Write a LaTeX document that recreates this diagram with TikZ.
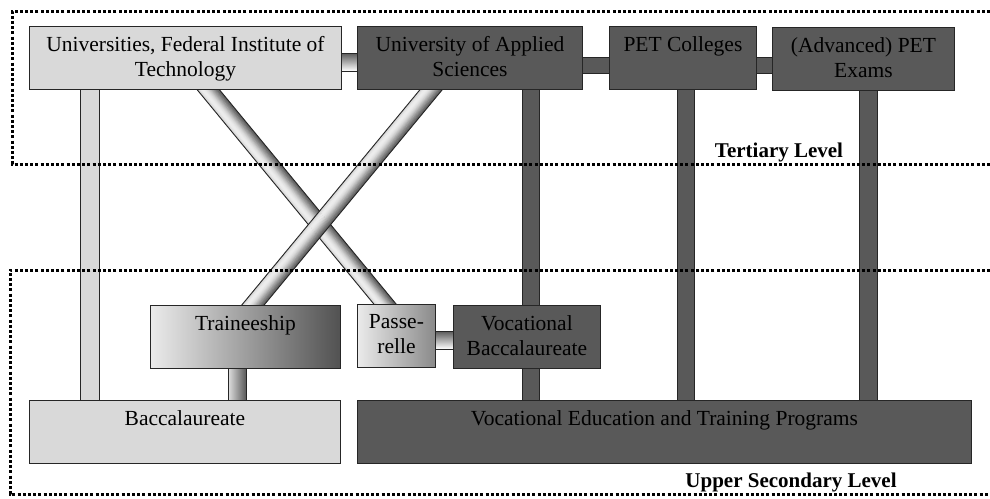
\documentclass[tikz,border=0pt]{standalone}
\usepackage{fontspec}
\setmainfont{Liberation Serif}
\usetikzlibrary{calc}
\definecolor{boxlight}{HTML}{D9D9D9}
\definecolor{boxdark}{HTML}{595959}
\definecolor{edge}{HTML}{262626}
\newcommand\gradbar[2]{%
  \foreach \ofs/\shv in {-8/20,-7/14,-6/10,-5/8,-4/7,-3/8,-2/10,-1/13,0/17,1/22,2/28,3/34,4/40,5/46,6/52,7/58,8/63} {%
    \draw[line width=1.3pt, black!\shv] ($(#1)!\ofs pt!90:(#2)$) -- ($(#2)!\ofs pt!-90:(#1)$);
  }%
  \draw[edge, line width=0.9pt] ($(#1)!-8.6pt!90:(#2)$) -- ($(#2)!-8.6pt!-90:(#1)$);
  \draw[edge, line width=0.9pt] ($(#1)!8.6pt!90:(#2)$) -- ($(#2)!8.6pt!-90:(#1)$);
}
\begin{document}
\begin{tikzpicture}[x=1pt,y=-1pt,
  box/.style={rectangle, draw=edge, line width=0.9pt, anchor=north west, inner sep=0pt, minimum height=63pt},
  lightbox/.style={box, fill=boxlight},
  darkbox/.style={box, fill=boxdark},
  lbl/.style={anchor=north, inner sep=0pt, yshift=-10.5pt, align=center, font=\fontsize{21.5}{25}\selectfont, text=black},
  level/.style={anchor=base, inner sep=0pt, font=\fontsize{21}{24.5}\selectfont\bfseries},
  levelframe/.style={line width=3pt, dash pattern=on 3pt off 2.2pt},
  bardark/.style={draw=edge, line width=0.9pt, fill=boxdark},
  barlight/.style={draw=edge, line width=0.9pt, fill=boxlight},
  barv/.style={draw=edge, line width=0.9pt, top color=black!65, bottom color=white},
  barh/.style={draw=edge, line width=0.9pt, left color=black!12, right color=black!65},
]
\useasboundingbox (0,0) rectangle (990,498);
\fill[white] (0,0) rectangle (990,498);

% box positions (named nodes, invisible; drawn again on top of connectors)
\path
  node[lightbox, draw=none, fill=none, minimum width=312pt] (univ) at (29,26) {}
  node[darkbox, draw=none, fill=none, minimum width=225pt] (uas) at (357,26) {}
  node[darkbox, draw=none, fill=none, minimum width=147pt] (pet) at (609,26) {}
  node[darkbox, draw=none, fill=none, minimum width=182pt] (adv) at (772,26.5) {}
  node[box, draw=none, minimum width=190pt] (trainee) at (150,305) {}
  node[box, draw=none, minimum width=78pt] (pass) at (357,304) {}
  node[darkbox, draw=none, fill=none, minimum width=147pt] (vocb) at (453,305) {}
  node[lightbox, draw=none, fill=none, minimum width=311pt] (bacc) at (29,400) {}
  node[darkbox, draw=none, fill=none, minimum width=614pt] (vet) at (357,400) {};

% straight connectors
\path[barlight] ([xshift=51pt]univ.south west) rectangle ([xshift=70pt]bacc.north west);
\path[barv] ([yshift=-27pt]univ.north east) rectangle ([yshift=-45pt]uas.north west);
\path[bardark] ([yshift=-31pt]uas.north east) rectangle ([yshift=-47pt]pet.north west);
\path[bardark] ([yshift=-31pt]pet.north east) rectangle ([yshift=-47pt]adv.north west);
\path[bardark] ([xshift=165pt]uas.south west) rectangle ([xshift=86pt]vocb.north west);
\path[bardark] ([xshift=69pt]vocb.south west) rectangle ([xshift=182pt]vet.north west);
\path[bardark] ([xshift=68pt]pet.south west) rectangle ([xshift=337pt]vet.north west);
\path[bardark] ([xshift=87pt]adv.south west) rectangle ([xshift=520pt]vet.north west);
\path[barh] ([xshift=78pt]trainee.south west) rectangle ([xshift=217pt]bacc.north west);
\path[barv] ([yshift=-27pt]pass.north east) rectangle ([yshift=-44pt]vocb.north west);

% diagonal connectors
\coordinate (d1a) at ([xshift=23pt]univ.south);
\coordinate (d1b) at ([xshift=-11.5pt]pass.north);
\coordinate (d2a) at ([xshift=-39pt]uas.south);
\coordinate (d2b) at ([xshift=7.5pt]trainee.north);
\coordinate (d1A) at ($(d1a)!-12pt!(d1b)$);
\coordinate (d1B) at ($(d1b)!-12pt!(d1a)$);
\coordinate (d2A) at ($(d2a)!-12pt!(d2b)$);
\coordinate (d2B) at ($(d2b)!-12pt!(d2a)$);
\gradbar{d1A}{d1B}
\gradbar{d2A}{d2B}

% visible boxes
\path
  node[lightbox, minimum width=312pt] (univB) at (29,26) {}
  node[darkbox, minimum width=225pt] (uasB) at (357,26) {}
  node[darkbox, minimum width=147pt] (petB) at (609,26) {}
  node[darkbox, minimum width=182pt] (advB) at (772,26.5) {}
  node[box, minimum width=190pt, left color=black!8, middle color=black!25, right color=black!68] (traineeB) at (150,305) {}
  node[box, minimum width=78pt, left color=black!8, right color=black!46] (passB) at (357,304) {}
  node[darkbox, minimum width=147pt] (vocbB) at (453,305) {}
  node[lightbox, minimum width=311pt] (baccB) at (29,400) {}
  node[darkbox, minimum width=614pt] (vetB) at (357,400) {};

% texts
\node[lbl] (univ-t) at (univ.north) {Universities, Federal Institute of\\Technology};
\node[lbl] (uas-t) at (uas.north) {University of Applied\\Sciences};
\node[lbl] (pet-t) at (pet.north) {PET Colleges};
\node[lbl] (adv-t) at (adv.north) {(Advanced) PET\\Exams};
\node[lbl] (trainee-t) at (trainee.north) {Traineeship};
\node[lbl] (pass-t) at (pass.north) {Passe-\\relle};
\node[lbl] (vocb-t) at (vocb.north) {Vocational\\Baccalaureate};
\node[lbl] (bacc-t) at (bacc.north) {Baccalaureate};
\node[lbl] (vet-t) at (vet.north) {Vocational Education and Training Programs};

% level frames
\draw[levelframe] (990,11) -- (12,11) -- (12,164) -- (990,164);
\draw[levelframe] (990,270) -- (10,270) -- (10,494) -- (990,494);
\node[level] (tert) at (779,157) {Tertiary Level};
\node[level] (upper) at (791,487) {Upper Secondary Level};
\end{tikzpicture}
\end{document}
